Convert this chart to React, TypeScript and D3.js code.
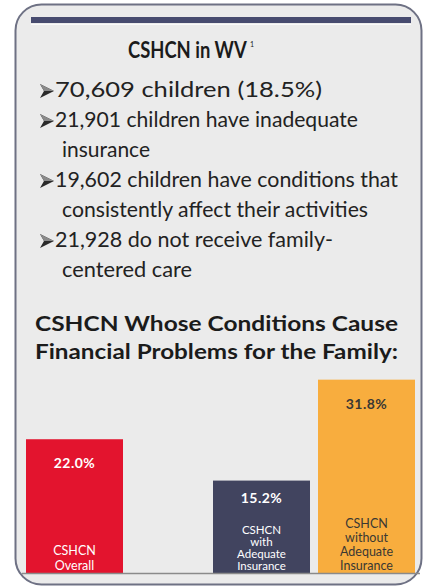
import React from "react";
import * as d3 from "d3";

const W = 428;
const H = 588;

// bullet list: each item is one or more lines
const bulletItems: string[][] = [
  ["70,609 children (18.5%)"],
  ["21,901 children have inadequate", "insurance"],
  ["19,602 children have conditions that", "consistently affect their activities"],
  ["21,928 do not receive family-", "centered care"],
];

const categories = ["overall", "withIns", "withoutIns"];
const values = [22.0, 15.2, 31.8];
const valueLabels = ["22.0%", "15.2%", "31.8%"];
const catLabels: string[][] = [
  ["CSHCN", "Overall"],
  ["CSHCN", "with", "Adequate", "Insurance"],
  ["CSHCN", "without", "Adequate", "Insurance"],
];
const barColors = ["#e3142e", "#41445f", "#f8ad3e"];
const textColors = ["#ffffff", "#ffffff", "#3a3833"];

// rendered widths of the bullet lines (the original face is wider than Lato)
const lineWidths = [267, 303, 88, 343, 306, 278, 130];
// line spacing of the category labels inside each bar
const labelSpacing = [15.5, 12, 14];

const FONT = "Lato, 'Open Sans', sans-serif";

export default function App() {
  const baseY = 573;
  const barW = 97;
  const x = d3.scaleOrdinal<string, number>().domain(categories).range([26, 213, 318]);
  const y = d3.scaleLinear().domain([0, 10]).range([baseY, baseY - 60.8]);

  // flatten bullets into lines
  const lines: { text: string; first: boolean }[] = [];
  bulletItems.forEach((item) =>
    item.forEach((t, i) => lines.push({ text: t, first: i === 0 }))
  );

  return (
    <div style={{ position: "absolute", left: 0, top: 0 }}>
      <svg width={W} height={H} style={{ display: "block", background: "#fff" }}>
        <rect x={15.5} y={4.5} width={406} height={580} rx={26} ry={26}
          fill="#ebebeb" stroke="#6e7184" strokeWidth={2} />
        <rect x={31} y={17} width={380} height={6} fill="#474b6f" />
        <line x1={31} x2={411} y1={24.5} y2={24.5} stroke="#fafafa" strokeWidth={1} />

        <g transform="translate(128,58) scale(0.8,1)">
          <text x={0} y={0} fontFamily={FONT} fontWeight={700} fontSize={23} fill="#1b1b1b">
            CSHCN in WV
          </text>
        </g>
        <text x={250} y={47} fontFamily={FONT} fontSize={7} fill="#1b1b1b">1</text>

        {lines.map((l, i) => {
          const by = 97 + i * 30;
          return (
            <g key={i}>
              {l.first && (
                <g>
                  <path d={`M40,${by - 13} L54,${by - 6} L40,${by + 1} L44,${by - 6} Z`} fill="#2a2a2a" />
                  <path d={`M40,${by - 13} L54,${by - 6} L44,${by - 6} Z`} fill="#8a8a8a" />
                </g>
              )}
              <text x={l.first ? 55 : 62} y={by} fontFamily={FONT}
                fontSize={21} fill="#222" textLength={lineWidths[i]} lengthAdjust="spacingAndGlyphs">
                {l.text}
              </text>
            </g>
          );
        })}

        <text x={35} y={331} fontFamily={FONT} fontWeight={700}
          fontSize={20} fill="#1b1b1b" textLength={363} lengthAdjust="spacingAndGlyphs">
          CSHCN Whose Conditions Cause
        </text>
        <text x={35} y={359} fontFamily={FONT} fontWeight={700}
          fontSize={20} fill="#1b1b1b" textLength={363} lengthAdjust="spacingAndGlyphs">
          Financial Problems for the Family:
        </text>

        {categories.map((c, i) => {
          const bx = x(c);
          const top = y(values[i]);
          const cx = bx + barW / 2;
          const lab = catLabels[i];
          return (
            <g key={c}>
              <rect x={bx} y={top} width={barW} height={baseY - top} fill={barColors[i]} />
              <text x={cx} y={top + (i === 1 ? 22 : 29)} textAnchor="middle" fontFamily={FONT}
                fontWeight={700} fontSize={14} fill={textColors[i]} letterSpacing={0.5}>
                {valueLabels[i]}
              </text>
              {lab.map((t, j) => (
                <text key={j} x={cx} y={570 - (lab.length - 1 - j) * labelSpacing[i]}
                  textAnchor="middle" fontFamily={FONT} fontSize={i === 1 ? 11.5 : 12.5}
                  fill={textColors[i]}>
                  {t}
                </text>
              ))}
            </g>
          );
        })}
        <line x1={22} x2={420} y1={baseY + 0.5} y2={baseY + 0.5} stroke="#8a8a8a" strokeWidth={1.5} />
      </svg>
    </div>
  );
}
